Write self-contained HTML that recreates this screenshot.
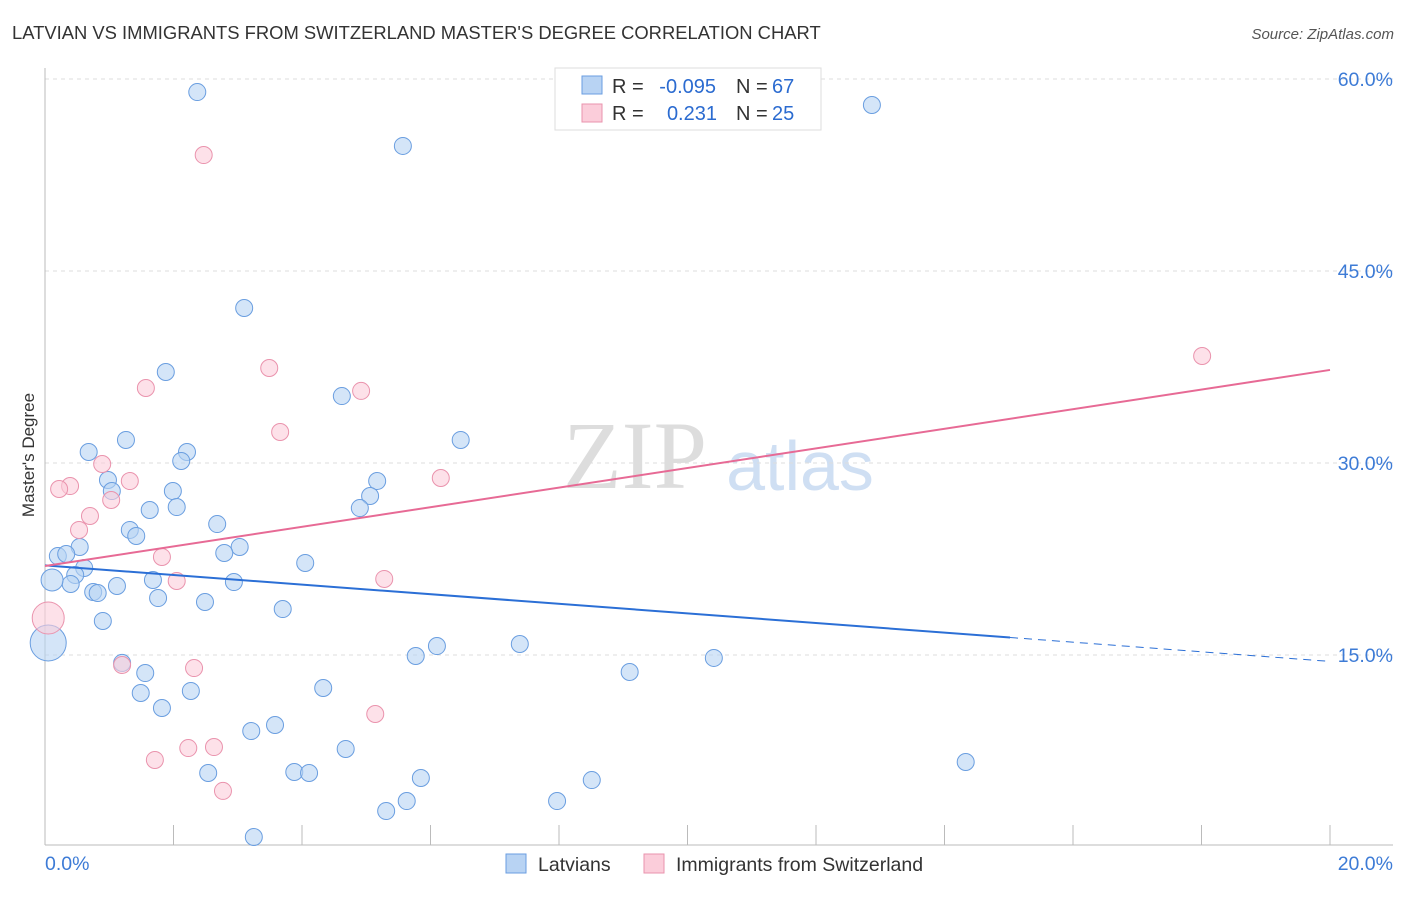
<!DOCTYPE html>
<html><head><meta charset="utf-8"><style>
body{margin:0;background:#fff;font-family:"Liberation Sans",sans-serif;}
svg text{font-family:"Liberation Sans",sans-serif;}
</style></head><body>
<svg id="chart" width="1406" height="892" viewBox="0 0 1406 892">
<text x="12" y="39" font-size="18.4" fill="#333">LATVIAN VS IMMIGRANTS FROM SWITZERLAND MASTER'S DEGREE CORRELATION CHART</text>
<text x="1394" y="39" font-size="15" fill="#555" font-style="italic" text-anchor="end">Source: ZipAtlas.com</text>
<g>
<text x="635" y="488" font-size="96" fill="#ddd" text-anchor="middle" style="font-family:'Liberation Serif',serif">ZIP</text>
<text x="800" y="490" font-size="70" fill="#cfdff3" text-anchor="middle">atlas</text>
</g>
<g id="grid"></g>
<g id="axes"></g>
<g id="marks"></g>
<text transform="translate(34,455) rotate(-90)" font-size="17" fill="#333" text-anchor="middle">Master's Degree</text>
<g>
<rect x="555" y="68" width="266" height="62" fill="#fff" stroke="#ddd"/>
<rect x="582" y="76" width="20" height="18" fill="#b8d3f3" stroke="#6a9ee0"/>
<rect x="582" y="104" width="20" height="18" fill="#fbcdda" stroke="#ea93ad"/>
<text x="612" y="93" font-size="20" fill="#333">R =</text>
<text x="716" y="93" font-size="20" fill="#2b6bd0" text-anchor="end">-0.095</text>
<text x="736" y="93" font-size="20" fill="#333">N =</text>
<text x="772" y="93" font-size="20" fill="#2b6bd0">67</text>
<text x="612" y="120" font-size="20" fill="#333">R =</text>
<text x="717" y="120" font-size="20" fill="#2b6bd0" text-anchor="end">0.231</text>
<text x="736" y="120" font-size="20" fill="#333">N =</text>
<text x="772" y="120" font-size="20" fill="#2b6bd0">25</text>
</g>
<g>
<rect x="506" y="854" width="20" height="19" fill="#b8d3f3" stroke="#6a9ee0"/>
<text x="538" y="871" font-size="19.5" fill="#333">Latvians</text>
<rect x="644" y="854" width="20" height="19" fill="#fbcdda" stroke="#ea93ad"/>
<text x="676" y="871" font-size="19.5" fill="#333">Immigrants from Switzerland</text>
</g>
</svg>
<script>
const yTicks=[15,30,45,60];
const yTickLabels=["15.0%","30.0%","45.0%","60.0%"];
const xTickLabels=["0.0%","20.0%"];
const blueX=[2.37,5.57,12.87,3.10,1.88,4.62,1.26,0.68,2.21,2.12,6.47,0.98,5.17,1.04,1.99,5.06,1.63,2.05,4.90,1.32,2.68,1.42,0.54,3.03,2.79,0.20,0.33,4.05,0.61,0.47,1.68,2.94,0.40,1.12,0.11,0.75,0.82,1.76,2.49,3.70,0.90,6.10,7.39,5.77,10.41,9.10,1.20,1.56,4.33,1.49,2.27,1.82,3.58,3.21,4.68,14.33,2.54,3.88,4.11,5.85,8.51,5.63,7.97,5.31,3.25,0.05];
const blueY=[58.98,54.77,57.97,42.11,37.11,35.23,31.80,30.86,30.86,30.16,31.80,28.67,28.59,27.81,27.81,27.42,26.33,26.56,26.48,24.77,25.23,24.30,23.44,23.44,22.97,22.73,22.89,22.19,21.80,21.25,20.86,20.70,20.55,20.39,20.86,19.92,19.84,19.45,19.14,18.59,17.66,15.70,15.86,14.92,14.77,13.67,14.38,13.59,12.42,12.03,12.19,10.86,9.53,9.06,7.66,6.64,5.78,5.86,5.78,5.39,5.23,3.59,3.59,2.81,0.78,15.94];
const blueR=blueX.map((v,i)=>i===65?18:(i===34?11:8.5));
const pinkX=[2.47,1.57,3.49,4.92,18.01,3.66,0.89,0.39,0.22,1.32,6.16,1.03,0.70,0.53,1.82,2.05,5.28,0.05,1.20,2.32,5.14,1.71,2.23,2.63,2.77];
const pinkY=[54.06,35.86,37.42,35.63,38.36,32.42,29.92,28.20,27.97,28.59,28.83,27.11,25.86,24.77,22.66,20.78,20.94,17.89,14.22,13.98,10.39,6.80,7.73,7.81,4.38];
const pinkR=pinkX.map((v,i)=>i===17?16:8.5);
const blueTrend=[22.0,14.5]; const blueSolidEnd=15.02;
const pinkTrend=[21.95,37.27];
const X=v=>45+v/20*1285, Y=v=>847-v/15*192;
const NS="http://www.w3.org/2000/svg";
function mk(t,a,p){const e=document.createElementNS(NS,t);for(const k in a)e.setAttribute(k,a[k]);p.appendChild(e);return e;}
const grid=document.getElementById('grid'),axes=document.getElementById('axes'),marks=document.getElementById('marks');
yTicks.forEach((t,i)=>{
 const l=mk('line',{x1:45,x2:1393,y1:Y(t),y2:Y(t),stroke:'#ddd','stroke-dasharray':'4,4'},grid);
 
 
 const tx=mk('text',{x:1393,y:Y(t)+7,'font-size':19.5,fill:'#3d7bd6','text-anchor':'end'},grid);tx.textContent=yTickLabels[i];
 
 
});
const ax=mk('line',{x1:45,x2:45,y1:68,y2:845,stroke:'#bbb'},axes);


const bx=mk('line',{x1:45,x2:1393,y1:845,y2:845,stroke:'#bbb'},axes);


for(let k=1;k<=10;k++){const t=mk('line',{x1:X(k*2),x2:X(k*2),y1:825,y2:845,stroke:'#bbb'},axes);
 
 }
[[0,'start',45],[20,'end',1393]].forEach((d,i)=>{const t=mk('text',{x:d[2],y:870,'font-size':19.5,fill:'#3d7bd6','text-anchor':d[1]},axes);t.textContent=xTickLabels[i];
 
 });
function dots(xs,ys,rs,fill,stroke,name){xs.forEach((x,i)=>{const c=mk('circle',{cx:X(x),cy:Y(ys[i]),r:rs[i],fill:fill,'fill-opacity':0.6,stroke:stroke,'stroke-width':1},marks);
 
 });}
dots(blueX,blueY,blueR,'#b8d3f3','#6a9ee0','latvians-point');
dots(pinkX,pinkY,pinkR,'#fbcdda','#ea93ad','swiss-point');
const bt=v=>blueTrend[0]+(blueTrend[1]-blueTrend[0])*v/20;
const l1=mk('line',{x1:X(0),y1:Y(bt(0)),x2:X(blueSolidEnd),y2:Y(bt(blueSolidEnd)),stroke:'#2b6fd6','stroke-width':2},marks);


const l2=mk('line',{x1:X(blueSolidEnd),y1:Y(bt(blueSolidEnd)),x2:X(20),y2:Y(bt(20)),stroke:'#2b6fd6','stroke-width':1,'stroke-dasharray':'8,6'},marks);


const l3=mk('line',{x1:X(0),y1:Y(pinkTrend[0]),x2:X(20),y2:Y(pinkTrend[1]),stroke:'#e76a95','stroke-width':2},marks);


</script>
</body></html>
